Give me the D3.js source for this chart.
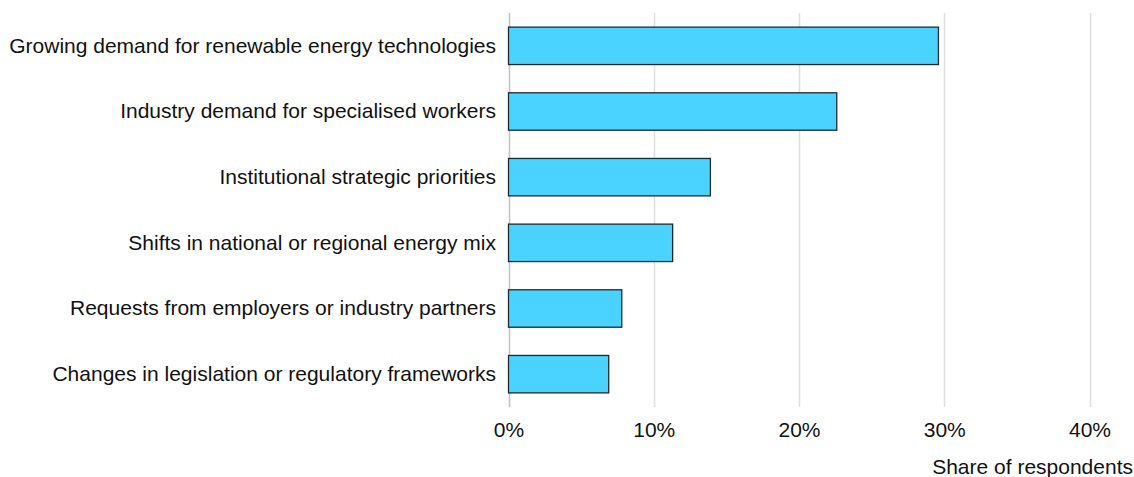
<!DOCTYPE html>
<html>
<head>
<meta charset="utf-8">
<script src="https://cdn.jsdelivr.net/npm/d3@7"></script>
<style>
  html, body { margin: 0; padding: 0; background: #fff; }
  svg { display: block; font-family: "Liberation Sans", Arial, sans-serif; }
</style>
</head>
<body>
<svg id="chart" width="1134" height="477"></svg>
<script>
// Drivers of curriculum change, share of respondents (%)
const categories = [
  "Growing demand for renewable energy technologies",
  "Industry demand for specialised workers",
  "Institutional strategic priorities",
  "Shifts in national or regional energy mix",
  "Requests from employers or industry partners",
  "Changes in legislation or regulatory frameworks"
];
const shares = [29.6, 22.6, 13.9, 11.3, 7.8, 6.9];
const tickValues = [0, 10, 20, 30, 40];
const axisTitle = "Share of respondents";

const fontSize = 21;
const svg = d3.select("#chart");

const x = d3.scaleLinear().domain([0, 40]).range([508.5, 1089.5]);
const y = d3.scaleBand()
  .domain(categories)
  .range([13, 407])
  .paddingInner(0.43)
  .paddingOuter(0.215);

// vertical gridlines
svg.append("g")
  .selectAll("line")
  .data(tickValues)
  .join("line")
  .attr("x1", d => Math.round(x(d)) + 0.5)
  .attr("x2", d => Math.round(x(d)) + 0.5)
  .attr("y1", 13)
  .attr("y2", 407)
  .attr("stroke", d => d === 0 ? "#c4c4c4" : "#e0e0e0")
  .attr("stroke-width", 1.6);

// bars
svg.append("g")
  .selectAll("rect")
  .data(categories.map((c, i) => ({ c, v: shares[i] })))
  .join("rect")
  .attr("x", x(0))
  .attr("y", d => y(d.c))
  .attr("width", d => x(d.v) - x(0))
  .attr("height", y.bandwidth())
  .attr("fill", "#4ad3ff")
  .attr("stroke", "#1f2a30")
  .attr("stroke-width", 1.3);

// category labels
const yAxis = svg.append("g")
  .attr("transform", "translate(496,0)")
  .call(d3.axisLeft(y).tickSize(0).tickPadding(0));
yAxis.select(".domain").remove();
yAxis.selectAll("text")
  .attr("font-size", fontSize)
  .attr("fill", "#111")
  .attr("font-family", "Liberation Sans, Arial, sans-serif");

// value axis labels
const xAxis = svg.append("g")
  .attr("transform", "translate(0,422)")
  .call(d3.axisBottom(x).tickValues(tickValues).tickFormat(d => d + "%").tickSize(0).tickPadding(0));
xAxis.select(".domain").remove();
xAxis.selectAll("text")
  .attr("font-size", fontSize)
  .attr("fill", "#111")
  .attr("font-family", "Liberation Sans, Arial, sans-serif");

// axis title
svg.append("text")
  .attr("x", 1133)
  .attr("y", 474)
  .attr("text-anchor", "end")
  .attr("font-size", fontSize)
  .attr("fill", "#111")
  .text(axisTitle);
</script>
</body>
</html>
